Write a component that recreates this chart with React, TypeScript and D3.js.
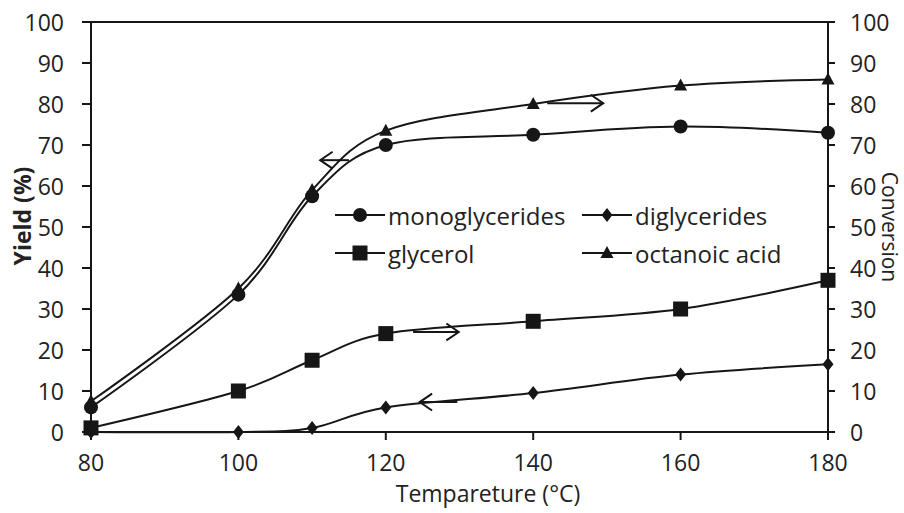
import React from "react";
import * as d3 from "d3";

// Reaction temperature (°C)
const temps = [80, 100, 110, 120, 140, 160, 180];

// Yield / conversion values (%)
const monoglycerides = [6, 33.5, 57.5, 70, 72.5, 74.5, 73];
const diglycerides = [0, 0, 1, 6, 9.5, 14, 16.5];
const glycerol = [1, 10, 17.5, 24, 27, 30, 37];
const octanoicAcid = [7.5, 35, 59, 73.5, 80, 84.5, 86];

const xTicks = [80, 100, 120, 140, 160, 180];
const yTicks = [0, 10, 20, 30, 40, 50, 60, 70, 80, 90, 100];

// Direction arrows: [tail x, tail y, tip x, tip y] in data units
const arrows = [
  [115, 66.3, 111.1, 66.3],
  [141.9, 80.2, 149.5, 80.2],
  [123.7, 24.4, 129.9, 24.4],
  [129.7, 7.3, 124.6, 7.3],
];

type Marker = "circle" | "diamond" | "square" | "triangle";

const series: { name: string; values: number[]; marker: Marker }[] = [
  { name: "monoglycerides", values: monoglycerides, marker: "circle" },
  { name: "diglycerides", values: diglycerides, marker: "diamond" },
  { name: "glycerol", values: glycerol, marker: "square" },
  { name: "octanoic acid", values: octanoicAcid, marker: "triangle" },
];

const W = 904;
const H = 513;
const FONT = "'Open Sans', Lato, sans-serif";
const INK = "#161616";
const TXT = "#222";
const FS = 23;
const LEGEND_FS = 24;

function MarkerShape({ kind, x, y }: { kind: Marker; x: number; y: number }) {
  if (kind === "circle") return <circle cx={x} cy={y} r={7} fill={INK} />;
  if (kind === "square")
    return <rect x={x - 7.5} y={y - 7.5} width={15} height={15} fill={INK} />;
  if (kind === "diamond")
    return (
      <path
        d={`M${x},${y - 7} L${x + 5.5},${y} L${x},${y + 7} L${x - 5.5},${y} Z`}
        fill={INK}
      />
    );
  return (
    <path
      d={`M${x},${y - 7} L${x + 6.5},${y + 5} L${x - 6.5},${y + 5} Z`}
      fill={INK}
    />
  );
}

export default function App() {
  const x = d3.scaleLinear().domain([80, 180]).range([91, 828]);
  const y = d3.scaleLinear().domain([0, 100]).range([432, 22]);

  const line = d3
    .line<[number, number]>()
    .x((d) => x(d[0]))
    .y((d) => y(d[1]))
    .curve(d3.curveCardinal.tension(0));

  const legend = [
    { s: series[0], lx: 335, ly: 215 },
    { s: series[1], lx: 582, ly: 215 },
    { s: series[2], lx: 335, ly: 253 },
    { s: series[3], lx: 582, ly: 253 },
  ];

  return (
    <svg
      width={W}
      height={H}
      style={{ position: "absolute", left: 0, top: 0, background: "#fff" }}
      fontFamily={FONT}
    >
      {/* frame: left, right, top and bottom axis lines */}
      <g stroke={INK} strokeWidth={2} fill="none">
        <line x1={x(80)} y1={y(0)} x2={x(80)} y2={y(100)} />
        <line x1={x(180)} y1={y(0)} x2={x(180)} y2={y(100)} />
        <line x1={x(80) - 9} y1={y(100)} x2={x(180) + 7} y2={y(100)} />
        <line x1={x(80)} y1={y(0)} x2={x(180)} y2={y(0)} />
      </g>

      {/* left axis ticks and labels */}
      {yTicks.map((t) => (
        <g key={"l" + t}>
          <line x1={x(80) - 9} x2={x(80)} y1={y(t)} y2={y(t)} stroke={INK} strokeWidth={2} />
          <text
            x={x(80) - 27}
            y={y(t)}
            textAnchor="end"
            dominantBaseline="central"
            fontSize={FS}
            fill={TXT}
          >
            {t}
          </text>
        </g>
      ))}

      {/* right axis ticks and labels */}
      {yTicks.map((t) => (
        <g key={"r" + t}>
          <line x1={x(180)} x2={x(180) + 7} y1={y(t)} y2={y(t)} stroke={INK} strokeWidth={2} />
          <text
            x={x(180) + 22}
            y={y(t)}
            textAnchor="start"
            dominantBaseline="central"
            fontSize={FS}
            fill={TXT}
          >
            {t}
          </text>
        </g>
      ))}

      {/* bottom axis ticks and labels */}
      {xTicks.map((t) => (
        <g key={"b" + t}>
          <line x1={x(t)} x2={x(t)} y1={y(0)} y2={y(0) + 8} stroke={INK} strokeWidth={2} />
          <text
            x={x(t)}
            y={y(0) + 30}
            textAnchor="middle"
            dominantBaseline="central"
            fontSize={FS}
            fill={TXT}
          >
            {t}
          </text>
        </g>
      ))}

      {/* axis titles */}
      <text
        x={488}
        y={493}
        textAnchor="middle"
        dominantBaseline="central"
        fontSize={FS}
        fill={TXT}
      >
        Tempareture (°C)
      </text>
      <text
        transform="translate(22,216) rotate(-90)"
        textAnchor="middle"
        dominantBaseline="central"
        fontSize={FS}
        fontWeight="bold"
        fill={TXT}
      >
        Yield (%)
      </text>
      <text
        transform="translate(890,227) rotate(90)"
        textAnchor="middle"
        dominantBaseline="central"
        fontSize={21}
        fill={TXT}
      >
        Conversion
      </text>

      {/* series lines and markers */}
      {series.map((s) => {
        const pts = temps.map((t, i) => [t, s.values[i]] as [number, number]);
        return (
          <g key={s.name}>
            <path d={line(pts) ?? ""} fill="none" stroke={INK} strokeWidth={2} />
            {pts.map((p, i) => (
              <MarkerShape key={i} kind={s.marker} x={x(p[0])} y={y(p[1])} />
            ))}
          </g>
        );
      })}

      {/* direction arrows */}
      {arrows.map((a, i) => {
        const x1 = x(a[0]);
        const y1 = y(a[1]);
        const x2 = x(a[2]);
        const y2 = y(a[3]);
        const ang = Math.atan2(y2 - y1, x2 - x1);
        const len = 15;
        const spread = 0.6;
        const h1x = x2 - len * Math.cos(ang - spread);
        const h1y = y2 - len * Math.sin(ang - spread);
        const h2x = x2 - len * Math.cos(ang + spread);
        const h2y = y2 - len * Math.sin(ang + spread);
        return (
          <g key={"a" + i} stroke={INK} strokeWidth={2} fill="none">
            <line x1={x1} y1={y1} x2={x2} y2={y2} />
            <polyline points={`${h1x},${h1y} ${x2},${y2} ${h2x},${h2y}`} />
          </g>
        );
      })}

      {/* legend */}
      {legend.map(({ s, lx, ly }) => (
        <g key={"lg" + s.name}>
          <line x1={lx} x2={lx + 50} y1={ly} y2={ly} stroke={INK} strokeWidth={2} />
          <MarkerShape kind={s.marker} x={lx + 25} y={ly} />
          <text
            x={lx + 53}
            y={ly}
            dominantBaseline="central"
            fontSize={LEGEND_FS}
            fill={TXT}
          >
            {s.name}
          </text>
        </g>
      ))}
    </svg>
  );
}
